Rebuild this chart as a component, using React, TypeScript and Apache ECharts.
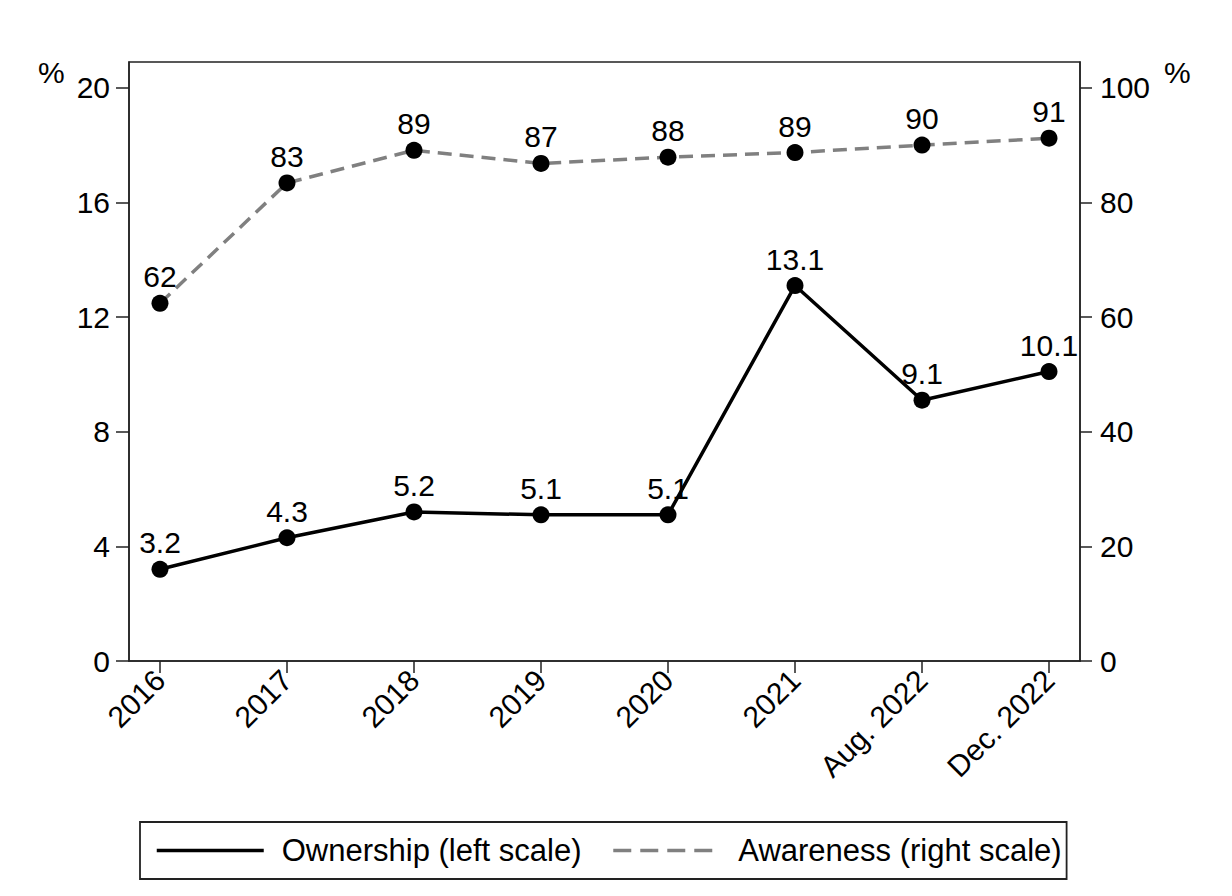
import React, { useEffect, useRef } from "react";
import * as echarts from "echarts";

const categories = ["2016", "2017", "2018", "2019", "2020", "2021", "Aug. 2022", "Dec. 2022"];
const ownership = [3.2, 4.3, 5.2, 5.1, 5.1, 13.1, 9.1, 10.1];
const awareness = [62.4, 83.4, 89.1, 86.8, 87.9, 88.7, 90.0, 91.2];
const leftTicks = [0, 4, 8, 12, 16, 20];
const rightTicks = [0, 20, 40, 60, 80, 100];
const xTicks = [0, 1, 2, 3, 4, 5, 6, 7];

const FONT = "'Liberation Sans', Arial, sans-serif";
const FS = 30;
const LFS = 31;

export default function App() {
  const ref = useRef<HTMLDivElement>(null);
  useEffect(() => {
    if (!ref.current) return;
    const chart = echarts.init(ref.current, null, { renderer: "svg" });
    const axisLine = { show: true, onZero: false, lineStyle: { color: "#222", width: 1.5 } };
    const option = {
      animation: false,
      backgroundColor: "#fff",
      textStyle: { fontFamily: FONT },
      grid: {
        left: 129,
        right: 152,
        top: 62,
        bottom: 235,
        show: true,
        borderColor: "#222",
        borderWidth: 1.5,
        backgroundColor: "transparent",
      },
      legend: {
        left: 140,
        top: 822,
        orient: "horizontal",
        padding: [13, 5, 13, 15],
        itemWidth: 107,
        itemHeight: 20,
        itemGap: 30,
        borderColor: "#222",
        borderWidth: 1.8,
        backgroundColor: "#fff",
        itemStyle: { opacity: 0 },
        textStyle: { fontSize: LFS, color: "#000", fontFamily: FONT, padding: [0, 0, 0, 13] },
        data: [
          { name: "Ownership (left scale)", lineStyle: { color: "#000", width: 3.5, type: "solid" } },
          { name: "Awareness (right scale)", lineStyle: { color: "#808080", width: 3.5, type: [18, 9] } },
        ],
      },
      xAxis: {
        type: "value",
        min: -0.244,
        max: 7.244,
        axisLine,
        splitLine: { show: false },
        axisTick: { show: true, customValues: xTicks, length: 12, lineStyle: { color: "#222", width: 1.5 } },
        axisLabel: {
          customValues: xTicks,
          formatter: (v: number) => categories[Math.round(v)] ?? "",
          rotate: 45,
          margin: 14,
          fontSize: FS,
          color: "#000",
          fontFamily: FONT,
        },
      },
      yAxis: [
        {
          type: "value",
          min: 0,
          max: 20.9,
          position: "left",
          axisLine,
          splitLine: { show: false },
          axisTick: { show: true, customValues: leftTicks, length: 13, lineStyle: { color: "#222", width: 1.5 } },
          axisLabel: { customValues: leftTicks, margin: 19, fontSize: FS, color: "#000", fontFamily: FONT },
        },
        {
          type: "value",
          min: 0,
          max: 104.5,
          position: "right",
          axisLine,
          splitLine: { show: false },
          axisTick: { show: true, customValues: rightTicks, length: 12, lineStyle: { color: "#222", width: 1.5 } },
          axisLabel: { customValues: rightTicks, margin: 20, fontSize: FS, color: "#000", fontFamily: FONT },
        },
      ],
      graphic: [
        { type: "text", left: 38, top: 57, style: { text: "%", fontSize: FS, fill: "#000", fontFamily: FONT } },
        { type: "text", left: 1164, top: 57, style: { text: "%", fontSize: FS, fill: "#000", fontFamily: FONT } },
      ],
      series: [
        {
          name: "Ownership (left scale)",
          type: "line",
          yAxisIndex: 0,
          data: ownership.map((v, i) => [i, v]),
          symbol: "circle",
          symbolSize: 17,
          itemStyle: { color: "#000" },
          lineStyle: { color: "#000", width: 3.5 },
          label: {
            show: true,
            position: "top",
            distance: 3,
            fontSize: FS,
            color: "#000",
            fontFamily: FONT,
            formatter: (p: any) => ownership[p.dataIndex].toFixed(1),
          },
          z: 3,
        },
        {
          name: "Awareness (right scale)",
          type: "line",
          yAxisIndex: 1,
          data: awareness.map((v, i) => [i, v]),
          symbol: "circle",
          symbolSize: 17,
          itemStyle: { color: "#000" },
          lineStyle: { color: "#808080", width: 3.5, type: [14, 8] },
          label: {
            show: true,
            position: "top",
            distance: 3,
            fontSize: FS,
            color: "#000",
            fontFamily: FONT,
            formatter: (p: any) => Math.round(awareness[p.dataIndex]).toString(),
          },
          z: 2,
        },
      ],
    };
    chart.setOption(option as any);
    return () => chart.dispose();
  }, []);
  return (
    <div
      ref={ref}
      style={{ position: "absolute", left: 0, top: 0, width: 1232, height: 896 }}
    />
  );
}
